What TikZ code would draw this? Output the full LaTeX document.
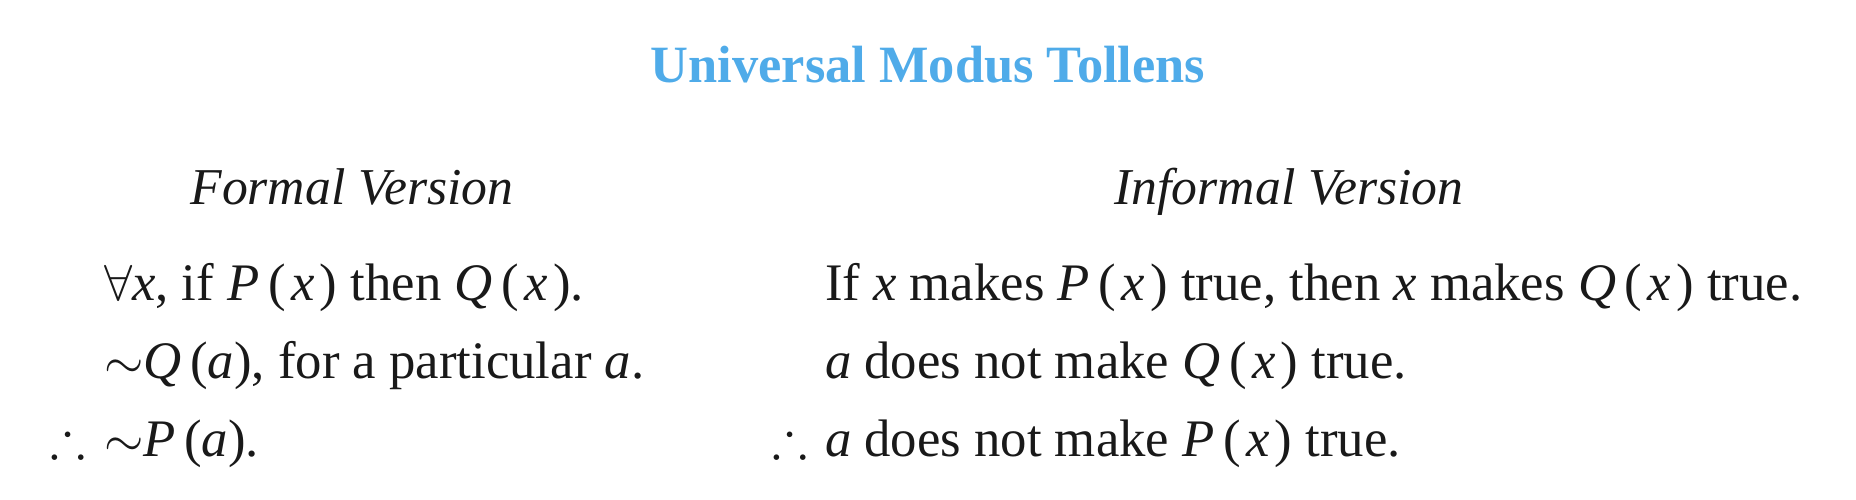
\documentclass[tikz,border=0pt]{standalone}
\usepackage{amssymb}
\usepackage{fontspec}
\setmainfont{Liberation Serif}
\definecolor{titleblue}{RGB}{79,171,233}
\newcommand{\vr}[1]{\textit{#1}}
\newcommand{\px}{(\kern1.5pt\textit{x}\kern1.5pt)}
\begin{document}
\begin{tikzpicture}[x=0.01cm,y=-0.01cm,
  txt/.style={inner sep=0pt,outer sep=0pt,font=\fontsize{15}{18}\selectfont,text=black!90},
  lft/.style={txt,anchor=base west},
  hdr/.style={txt,anchor=base,font=\fontsize{14.7}{18}\selectfont\itshape},
  ttl/.style={inner sep=0pt,anchor=base,font=\fontsize{14.9}{18}\selectfont\bfseries,text=titleblue}]
\useasboundingbox (0,0) rectangle (1856,500);
\node[ttl] (title) at (928,83) {Universal Modus Tollens};
\node[hdr] (hformal) at (352,205) {Formal Version};
\node[hdr] (hinformal) at (1289,205) {Informal Version};
\node[lft] (f1) at (104,300) {$\forall$\vr{x}, if \vr{P}\,\px{} then \vr{Q}\,\px.};
\node[lft] (f2) at (104,378) {$\sim$\vr{Q}\,(\vr{a}), for a particular \vr{a}.};
\node[lft] (f3t) at (51,456) {$\therefore$};
\node[lft] (f3) at (104,456) {$\sim$\vr{P}\,(\vr{a}).};
\node[lft] (i1) at (825,300) {If \vr{x} makes \vr{P}\,\px{} true, then \vr{x} makes \vr{Q}\,\px{} true.};
\node[lft] (i2) at (825,378) {\vr{a} does not make \vr{Q}\,\px{} true.};
\node[lft] (i3t) at (772,456) {$\therefore$};
\node[lft] (i3) at (825,456) {\vr{a} does not make \vr{P}\,\px{} true.};
\end{tikzpicture}
\end{document}
